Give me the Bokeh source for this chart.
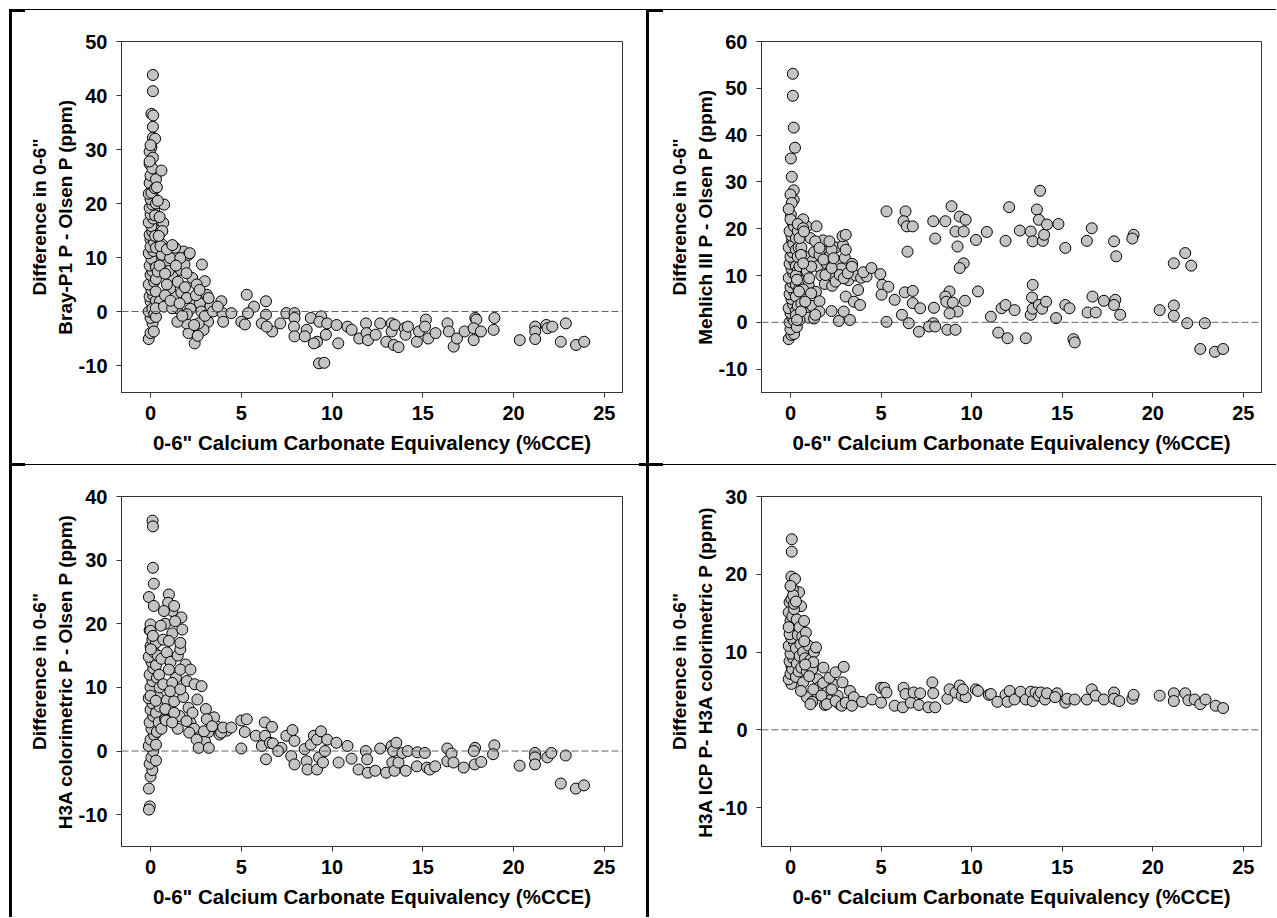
from bokeh.plotting import figure
from bokeh.models import Range1d, FixedTicker, Span, Spacer
from bokeh.layouts import row, column
from bokeh.embed import file_html
from bokeh.resources import INLINE

# ---------------- data ----------------
x_ticks = [0, 5, 10, 15, 20, 25]
x_label = '0-6" Calcium Carbonate Equivalency (%CCE)'

y1_label = 'Difference in 0-6"\nBray-P1 P - Olsen P (ppm)'
y1_ticks = [-10, 0, 10, 20, 30, 40, 50]
x1 = [0.13, 0.13, 0.05, 0.15, 0.13, 0.13, 0.25, 0.05, -0.05, 0.13, -0.05, 0.2, 0.05, 0.1, 0.2, 0.2, 0.2, 0.0,
      -0.1, 0.0, 0.11, 0.18, 0.0, 0.0, -0.1, 0.1, 0.2, -0.05, 0.15, 0.05, -0.1, 0.2, 0.0, 0.1, -0.05, 0.25,
      0.05, -0.1, 0.15, 0.0, 0.2, -0.05, 0.1, 0.05, -0.1, 0.15, 0.0, -0.05, 0.1, 0.0, -0.1, 0.05, 0.15, -0.05,
      0.0, 0.1, -0.05, 0.0, 0.25, 0.3, 0.3, 0.3, 0.3, 0.3, 0.25, 0.3, 0.25, 0.3,
      2.99, 3.1, 3.17, 2.92, 2.43, 2.09, 2.65, 1.98, 1.48, 1.46, 1.3, 1.08, 1.64, 1.87, 0.97, 0.63, 0.4, 0.29,
      0.52, 0.29, 0.74, 1.19, 2.43, 2.72, 2.3, 2.54, 1.98, 1.82, 2.09, 1.08, 0.63, 1.35, 1.64, 2.16, 2.83, 0.75,
      0.6, 0.7, 0.65, 0.55, 1.2, 1.5, 0.9, 1.0, 1.4, 0.8, 1.1, 1.7, 2.0, 2.2, 2.5, 2.8, 3.0, 3.3, 1.9, 2.7, 0.9,
      1.2, 0.5, 0.8, 1.6, 2.0, 2.4, 2.6, 1.75, 3.2, 0.45, 0.5, 0.4, 0.35,
      3.9, 3.44, 3.96, 4.0, 4.45, 3.7, 5.3, 6.36, 5.7, 5.37, 5.0, 5.2, 6.36, 6.13, 6.7, 6.4, 7.48, 7.93, 7.15,
      7.93, 7.9, 7.93, 8.6, 8.5, 8.83, 9.4, 9.3, 9.17, 9.0, 9.66, 9.28, 9.57, 9.73, 10.25, 10.34, 10.85, 11.08,
      11.5, 11.87, 11.9, 11.98, 12.4, 12.65, 12.99, 13.28, 13.28, 13.4, 13.46, 13.66, 14.0, 14.05, 14.18, 14.67,
      14.79, 15.17, 15.12, 15.3, 15.7, 16.36, 16.43, 16.7, 16.88, 17.3, 17.89, 17.95, 17.8, 17.8, 18.2, 18.94,
      18.9, 20.34, 21.19, 21.19, 21.19, 21.8, 21.87, 22.13, 22.6, 22.88, 23.44, 23.89]
y1 = [43.8, 40.8, 36.6, 36.3, 34.2, 32.2, 32.0, 30.4, 29.6, 28.5, 27.3, 25.9, 24.8, 22.6, 21.0, 18.9, 16.7, 13.3,
      -5.1, -4.0, -2.2, -3.7, -1.2, 1.9, 0.0, 0.5, -0.5, 2.8, 3.0, 4.0, 5.0, 5.5, 6.8, 7.5, 8.5, 9.0,
      9.8, 10.8, 11.2, 12.0, 12.8, 14.2, 14.8, 15.8, 16.5, 17.2, 18.0, 19.2, 19.8, 20.8, 21.8, 22.0, 23.2, 23.8,
      25.2, 26.5, 27.8, 30.8, 14.0, 11.8, 8.2, 6.0, 2.0, -1.0, 17.8, 20.0, 22.8, 24.5,
      5.6, 3.1, -1.9, -3.4, -5.9, -4.0, -2.2, -2.2, -1.9, 0.6, 2.8, 4.3, 7.7, 8.7, 9.3, 10.5, 7.4, 3.7,
      1.9, 0.6, 0.9, 0.6, 1.2, 1.5, 6.2, 5.0, 7.1, 11.1, 10.5, 9.9, 12.4, 11.8, 9.9, 10.8, 8.7, 19.8,
      26.1, 16.4, 14.9, 12.1, 6.5, 5.5, 5.0, 7.5, 8.5, 3.0, 2.0, 3.5, 2.5, 0.5, 3.0, 0.0, -0.8, 1.0, 4.5, 4.0, 11.5,
      12.3, 8.5, 7.0, 1.5, -0.5, -2.5, -4.5, -0.8, 2.5, 14.0, 17.5, 20.5, 23.0,
      1.9, 0.0, -0.3, -1.9, -0.3, 0.9, 3.1, 1.9, 0.9, -0.3, -1.9, -2.4, -0.6, -2.2, -3.7, -2.8, -0.3, -0.3, -2.2,
      -1.2, -2.8, -4.6, -3.4, -4.6, -1.2, -0.9, -1.9, -5.6, -5.9, -4.3, -9.6, -9.5, -2.2, -2.5, -5.9, -2.8, -3.4,
      -5.0, -2.2, -4.0, -5.3, -4.3, -2.2, -5.6, -2.2, -3.7, -6.2, -2.5, -6.6, -3.1, -4.3, -2.8, -5.6,
      -3.7, -1.5, -2.8, -5.0, -4.0, -2.2, -3.7, -6.5, -5.0, -3.7, -1.2, -1.5, -3.1, -5.3, -3.7, -1.2,
      -3.4, -5.3, -2.8, -3.7, -5.1, -2.5, -3.1, -2.8, -5.6, -2.2, -6.2, -5.6]

y2_label = 'Difference in 0-6"\nMehlich III P - Olsen P (ppm)'
y2_ticks = [-10, 0, 10, 20, 30, 40, 50, 60]
x2 = [0.13, 0.13, 0.18, 0.25, 0.02, 0.07, 0.18, 0.18, 0.0, 0.07, 0.02, 0.07, 0.09,
      -0.1, 0.05, 0.13, 0.2, 0.0, -0.05, 0.1, 0.2, 0.0, -0.1, 0.15, 0.05, -0.05, 0.2, 0.0, 0.1, -0.1, 0.15,
      0.05, -0.05, 0.2, 0.0, 0.1, -0.1, 0.15, 0.05, -0.05, 0.2, 0.0, -0.1, 0.3, 0.3, 0.3, 0.3, 0.3, 0.3,
      0.35, 0.4, 0.45, 0.5, 0.4, 0.45, 0.4,
      0.3, 0.5, 0.4, 0.6, 0.5, 0.8, 0.9, 1.0, 1.2, 1.3, 1.5, 1.7, 2.0, 2.2, 2.4, 2.6, 2.8, 3.0, 3.2, 2.0, 1.8,
      1.1, 0.9, 0.7, 0.4, 2.5, 3.4, 3.6, 3.9, 4.2, 1.4, 1.9, 2.3, 0.6, 0.8, 1.0, 1.2, 0.5, 0.3, 0.7, 1.6, 1.3,
      2.1, 2.9,
      1.6, 2.27, 2.67, 2.94, 3.28, 3.05, 3.73, 3.5, 3.84, 1.37, 1.14, 0.81, 1.03, 1.14, 1.6, 1.82, 1.93, 2.49,
      2.72, 2.94, 3.16, 2.27, 2.27, 1.37, 0.7, 0.58, 0.7, 0.36, 0.47, 0.58, 0.36,
      0.74, 1.44, 1.6, 2.15, 2.87, 3.05, 3.05, 2.38, 3.39, 4.02, 4.47, 4.96, 5.07, 5.4, 5.03, 5.75, 6.15, 5.3,
      6.53, 7.09, 6.75, 7.16, 6.31, 6.75, 5.3, 6.35, 6.24, 6.42, 6.75, 6.46, 7.88, 7.99, 8.55, 8.89, 9.11, 9.34,
      9.56, 9.67, 9.22, 9.56, 9.34, 10.24, 10.84, 9.63, 8.78, 8.55, 8.6, 8.96, 9.22, 8.78, 8.66, 9.11, 7.88,
      7.65, 7.99, 7.92, 10.35, 11.06, 11.47, 11.65, 11.87, 11.98, 12.37, 11.87, 12.07, 12.66, 12.99, 13.26,
      13.37, 13.37, 13.33, 13.26, 13.37, 13.6, 13.71, 13.78, 13.93, 14.0, 14.16, 13.71, 13.89, 14.11, 14.66,
      14.79, 15.17, 15.17, 15.4, 15.62, 15.69, 16.36, 16.63, 16.4, 16.67, 16.85, 17.3, 17.86, 17.98, 17.93,
      17.86, 18.2, 18.94, 18.87, 20.38, 21.16, 21.16, 21.16, 21.79, 21.9, 22.12, 22.62, 22.87, 23.43, 23.88]
y2 = [53.1, 48.4, 41.6, 37.3, 35.0, 31.1, 28.2, 26.2, 27.3, 25.5, 23.0, 21.6, 17.4,
      -3.6, -2.7, -0.9, -2.5, -1.5, 0.0, 1.0, 0.3, 2.0, 3.0, 3.8, 5.0, 6.0, 6.5, 7.5, 8.5, 9.5, 10.5,
      11.5, 12.5, 13.0, 14.0, 15.0, 16.0, 16.8, 18.5, 19.5, 20.5, 22.0, 24.2, 2.5, 5.5, 8.0, 12.0, 15.5, 18.0,
      -1.0, 3.5, 7.0, 9.0, 11.0, 16.0, 19.5,
      10.0, 12.0, 14.0, 16.0, 18.0, 14.0, 11.0, 8.0, 13.0, 15.0, 12.0, 10.0, 12.5, 11.0, 9.5, 13.0, 11.5, 13.8,
      9.0, 15.0, 17.5, 18.0, 20.5, 22.0, 21.0, 16.0, 12.5, 10.0, 9.5, 9.8, 6.5, 8.2, 7.8, 4.0, 2.0, 1.0, 3.5,
      0.5, 1.5, 7.0, 4.5, 0.8, 14.0, 16.5,
      2.3, 2.4, 0.3, 2.3, 0.5, 5.5, 6.9, 4.4, 3.7, 1.6, 6.2, 4.4, 9.4, 11.9, 14.4, 13.4, 10.1, 8.7,
      10.1, 9.4, 10.5, 11.6, 15.5, 17.3, 20.1, 14.4, 12.6, 9.1, 6.6, 2.3, 0.5,
      19.4, 20.5, 15.9, 17.3, 18.4, 18.7, 15.5, 13.7, 11.9, 10.7, 11.6, 10.3, 8.0, 7.6, 5.9, 4.8, 1.6, 0.1,
      -0.2, -2.0, 4.1, 3.0, 6.4, 6.7, 23.7, 23.7, 21.6, 20.5, 20.5, 15.1, 21.6, 17.9, 21.6, 24.8, 19.4, 22.6,
      19.4, 21.9, 16.2, 12.6, 11.6, 17.6, 19.3, 4.6, 6.6, 5.5, 4.4, 4.2, 2.3, 1.9, -1.6, -1.6, -0.2,
      -0.9, -0.9, 3.1, 6.6, 1.2, -2.2, 3.0, 3.7, -3.4, 2.6, 17.4, 24.6, 19.6, -3.4, 19.4,
      17.3, 8.0, 5.3, 1.6, 2.9, 24.1, 21.9, 28.1, 17.4, 18.7, 20.9, 3.7, 2.9, 4.4, 0.9,
      21.0, 15.9, 3.7, 3.0, -3.6, -4.3, 17.4, 20.1, 2.1, 5.5, 2.1, 4.6, 17.3, 14.1, 4.8,
      3.7, 1.6, 18.7, 17.9, 2.6, 12.6, 3.6, 1.4, 14.8, -0.2, 12.1, -5.7, -0.2, -6.3, -5.7]

y3_label = 'Difference in 0-6"\nH3A colorimetric P - Olsen P (ppm)'
y3_ticks = [-10, 0, 10, 20, 30, 40]
x3 = [-0.09, -0.04, -0.09, 0.0, 0.1, -0.05, 0.05, 0.15, -0.1, 0.0, 0.2, 0.05, -0.05, 0.15, 0.0, 0.1, -0.1,
      0.2, 0.0, 0.1, -0.05, 0.15, 0.05, -0.1, 0.2, 0.0, 0.1, -0.05, 0.3, 0.3, 0.35, 0.3, 0.4, 0.35, 0.3, 0.4,
      0.3, 0.45, 0.5, 0.5,
      0.11, 0.13, 0.13, 0.18, -0.09, 0.18, 0.0, 0.0, 0.13, 0.02, 0.0, 0.29, 0.47,
      0.6, 0.7, 0.8, 0.9, 1.1, 1.2, 1.5, 1.4, 0.9, 0.7, 1.0, 1.3, 1.6, 1.8, 2.0, 0.6, 0.8, 1.5, 2.2, 2.4, 2.7,
      3.0, 3.2, 3.6, 3.8, 4.2, 1.7, 1.2,
      1.01, 0.97, 1.3, 0.74, 1.35, 1.75, 0.56, 1.01, 1.64, 1.64, 1.93, 1.64, 2.2, 1.01, 2.43, 2.81, 1.19,
      1.08, 1.64, 2.58, 2.09, 2.31, 3.05, 3.5, 3.1, 0.81, 0.85, 1.3, 1.19, 1.98, 2.13, 2.54, 2.65, 3.21,
      2.94, 3.39, 3.89, 4.0, 4.45,
      5.0, 5.3, 5.19, 5.0, 5.8, 6.29, 6.69, 6.13, 6.31, 6.58, 6.74, 6.36, 7.21, 7.03, 7.48, 7.82, 7.93,
      7.75, 7.93, 8.49, 8.6, 8.65, 8.83, 9.0, 9.17, 9.39, 9.28, 9.17, 9.61, 9.73, 9.5, 10.24, 10.36, 10.85,
      11.07, 11.46, 11.86, 11.97, 11.93, 12.38, 12.65, 12.98, 13.28, 13.37, 13.32, 13.44, 13.54, 13.66,
      13.88, 14.06, 14.17, 14.67, 14.7, 15.11, 15.23, 15.38, 15.68, 16.35, 16.35, 16.58, 16.69, 17.25,
      17.88, 17.81, 17.86, 18.22, 18.94, 18.87, 20.33, 21.18, 21.18, 21.18, 21.86, 22.08, 22.6, 22.87,
      23.43, 23.88]
y3 = [-5.9, -8.7, -9.2, -4.0, -3.0, -2.0, -1.0, 0.0, 0.8, 1.8, 2.5, 3.5, 4.5, 5.5, 6.5, 7.5, 8.3,
      9.2, 10.0, 11.0, 12.0, 13.0, 14.0, 14.8, 15.5, 16.5, 17.5, 19.0, -1.5, 1.0, 3.0, 6.0, 8.5, 11.5, 13.5, 15.0,
      17.0, 4.5, 7.0, 10.0,
      36.2, 35.3, 28.8, 26.3, 24.2, 22.8, 19.9, 18.9, 18.1, 16.0, 8.7, 7.9, 12.0,
      14.5, 17.5, 20.0, 15.5, 14.0, 18.5, 15.0, 11.5, 8.0, 10.5, 5.5, 7.8, 5.5, 8.5, 11.0, 3.5, 5.0, 3.5, 4.5,
      3.5, 2.2, 1.5, 3.0, 4.0, 2.6, 3.2, 21.0, 22.0,
      24.6, 23.3, 22.8, 22.0, 20.4, 19.1, 19.7, 17.3, 16.0, 17.0, 13.6, 12.8, 12.8, 12.8, 10.5, 10.2, 10.7,
      9.4, 9.7, 8.1, 6.8, 6.0, 6.6, 5.3, 5.0, 6.6, 4.8, 6.0, 4.5, 4.7, 2.9, 1.8, 0.5, 0.5,
      3.1, 3.9, 2.9, 3.7, 3.7,
      4.8, 5.0, 3.0, 0.4, 2.4, 4.5, 3.8, 0.8, 2.4, 1.3, 1.2, -1.3, 0.5, 0.0, 2.4, 3.3, 1.6,
      -0.8, -2.1, 0.3, -1.6, -2.9, 1.0, 2.4, 1.8, 3.1, -1.0, -2.9, 0.0, 1.8, -1.8, 1.3, -1.8, 0.8,
      -1.2, -2.9, 0.0, -3.4, -1.3, -3.1, 0.4, -3.4, 0.8, 0.0, -1.8, -3.1, 1.3, -1.8,
      -0.3, -3.1, 0.0, -2.4, -0.2, -0.3, -2.6, -2.9, -2.4, 0.4, -1.6, -0.4, -1.8, -2.6,
      0.5, 0.0, -2.1, -1.7, 0.9, -0.5, -2.3, -0.3, -1.0, -2.1, -1.0, -0.3, -5.1, -0.7,
      -5.9, -5.4]

y4_label = 'Difference in 0-6"\nH3A ICP P- H3A colorimetric P (ppm)'
y4_ticks = [-10, 0, 10, 20, 30]
x4 = [0.07, 0.07, 0.05, 0.25, 0.47, 0.58, -0.05, 0.13, -0.1, 0.05, 0.07, 0.05, 0.05,
      -0.1, 0.0, 0.1, -0.05, 0.15, 0.0, -0.1, 0.2, 0.05, -0.05, 0.15, 0.0, 0.1, -0.1, 0.2, 0.05, 0.15, 0.0,
      0.2, 0.3, 0.35, 0.3, 0.4, 0.35, 0.3, 0.45, 0.5, 0.55, 0.5, 0.6, 0.7, 0.65, 0.8, 0.9, 1.0, 1.1, 0.75,
      0.85, 1.2, 1.3, 1.5, 1.6, 1.4, 1.8, 2.0, 2.2, 2.4, 2.6, 2.7, 1.9, 0.9, 1.2,
      0.76, 1.41, 1.26, 0.81, 1.82, 0.7, 1.03, 0.58, 1.26, 1.1, 1.71, 2.15, 2.49, 2.94, 2.87, 2.27, 2.0,
      2.49, 2.83, 3.05, 3.28, 3.5, 3.95, 3.39, 4.51,
      5.0, 5.0, 5.18, 5.3, 5.75, 6.2, 6.24, 6.35, 6.64, 6.8, 7.16, 7.09, 7.61, 7.83, 7.88, 7.99, 8.66,
      8.78, 9.11, 9.34, 9.45, 9.67, 9.52, 10.23, 10.35, 10.95, 11.06, 11.42, 11.87, 11.98, 12.1, 12.37,
      12.7, 12.99, 13.26, 13.37, 13.53, 13.71, 13.82, 14.05, 14.16, 14.72, 14.61, 15.17, 15.28, 15.69,
      16.36, 16.63, 16.85, 17.3, 17.86, 17.86, 18.15, 18.87, 18.94, 20.38, 21.16, 21.16, 21.79, 21.97,
      22.31, 22.62, 22.91, 23.47, 23.88]
y4 = [24.5, 22.9, 19.7, 19.4, 17.7, 15.9, 16.4, 18.1, 15.1, 12.9, 10.2, 8.2, 5.9,
      6.5, 7.2, 7.8, 8.8, 9.2, 9.8, 10.8, 11.2, 11.8, 12.3, 13.5, 14.0, 14.6, 13.2, 15.5, 16.8, 17.3, 18.5,
      16.2, 6.8, 8.5, 10.5, 12.2, 14.2, 16.5, 7.5, 9.5, 11.0, 13.2, 8.0, 10.0, 12.0, 9.2, 7.5, 10.8, 9.0, 14.0,
      12.5, 7.8, 10.0, 6.5, 5.5, 4.5, 6.0, 4.8, 3.8, 5.8, 4.4, 3.3, 3.2, 4.2, 3.6,
      11.4, 10.6, 8.7, 8.4, 8.0, 6.1, 6.9, 5.0, 5.2, 3.3, 4.4, 6.7, 7.4, 8.1, 6.1, 5.2, 3.3,
      3.7, 3.1, 3.5, 5.0, 4.2, 3.6, 3.1, 3.9,
      3.5, 5.4, 5.4, 4.8, 3.1, 2.9, 5.4, 4.6, 3.5, 4.8, 4.7, 3.2, 2.9, 6.1, 4.7, 2.9, 4.0,
      5.2, 4.8, 5.7, 4.4, 4.2, 5.2, 5.2, 5.0, 4.5, 4.6, 3.6, 4.5, 3.6, 5.0, 3.9,
      4.9, 3.9, 4.9, 3.7, 4.8, 4.4, 4.8, 3.9, 4.7, 4.7, 4.2, 3.5, 4.0, 3.9,
      3.9, 5.2, 4.4, 3.9, 4.8, 4.0, 3.7, 4.0, 4.5, 4.4, 4.7, 3.7, 4.7, 3.8,
      3.9, 3.3, 3.9, 3.1, 2.8]

# ---------------- styling helpers ----------------
FONT = "Liberation Sans"
TICK_FS = "20px"
XLAB_FS = "20.5px"
YLAB_FS = "19px"


def make_panel(xs, ys, ylab, yticks, ymax, width, height, bl, br, bt, bb):
    p = figure(width=width, height=height, output_backend="svg", toolbar_location=None,
               x_range=Range1d(-1.6, 26), y_range=Range1d(-15, ymax),
               min_border_left=bl, min_border_right=br, min_border_top=bt, min_border_bottom=bb)
    p.xgrid.visible = False
    p.ygrid.visible = False
    p.outline_line_color = "#333333"
    p.outline_line_width = 1
    p.background_fill_color = "white"
    p.border_fill_color = "white"
    for ax in (p.xaxis[0], p.yaxis[0]):
        ax.axis_line_color = "#333333"
        ax.major_tick_line_color = "#333333"
        ax.major_tick_out = 5
        ax.major_tick_in = 0
        ax.minor_tick_line_color = None
        ax.major_label_text_font = FONT
        ax.major_label_text_font_style = "bold"
        ax.major_label_text_font_size = TICK_FS
        ax.major_label_text_color = "black"
        ax.axis_label_text_font = FONT
        ax.axis_label_text_font_style = "bold"
        ax.axis_label_text_color = "black"
    p.xaxis.axis_label_text_font_size = XLAB_FS
    p.yaxis.axis_label_text_font_size = YLAB_FS
    p.xaxis.ticker = FixedTicker(ticks=x_ticks)
    p.yaxis.ticker = FixedTicker(ticks=yticks)
    # plain hyphen for negative tick labels, as in the original
    p.yaxis.major_label_overrides = {t: str(t) for t in yticks}
    p.xaxis.axis_label = x_label
    p.yaxis.axis_label = ylab
    p.xaxis.major_label_standoff = 8
    p.yaxis.major_label_standoff = 9
    p.xaxis.axis_label_standoff = 8
    p.yaxis.axis_label_standoff = 0
    p.add_layout(Span(location=0, dimension="width", line_color="#66665c",
                      line_dash="7 3", line_width=1))
    p.scatter(xs, ys, size=11, marker="circle", fill_color="#c4c4c4",
              line_color="black", line_width=1)
    return p


W1, W2 = 634, 627
H1, H2 = 451, 451

p1 = make_panel(x1, y1, y1_label, y1_ticks, 50, W1, H1, 109, 24, 29, 71)
p2 = make_panel(x2, y2, y2_label, y2_ticks, 60, W2, H1, 112, 15, 29, 71)
p3 = make_panel(x3, y3, y3_label, y3_ticks, 40, W1, H2, 109, 24, 30, 71)
p4 = make_panel(x4, y4, y4_label, y4_ticks, 30, W2, H2, 112, 15, 30, 71)


def bar(w, h, color="black"):
    return Spacer(width=w, height=h, styles={"background-color": color})


def thin(w, pattern):
    # pattern: list of colours, one pixel row each
    return column(*[bar(w, 1, c) for c in pattern])


TOTAL_W = 9 + 3 + W1 + 3 + W2
top_pat = ["black", "white", "white"]
mid_pat = ["white", "black", "white"]

top_band = row(bar(9, 3, "white"), bar(16, 3), thin(621, top_pat), bar(17, 3),
               thin(TOTAL_W - 663, top_pat))
mid_band = row(bar(9, 3, "white"), bar(16, 3), thin(614, mid_pat), bar(24, 3),
               thin(TOTAL_W - 663, mid_pat))

layout = column(
    bar(TOTAL_W, 9, "white"),
    top_band,
    row(bar(9, H1, "white"), bar(3, H1), p1, bar(3, H1), p2),
    mid_band,
    row(bar(9, H2, "white"), bar(3, H2), p3, bar(3, H2), p4),
)

open("out.html", "w").write(file_html(layout, INLINE))
